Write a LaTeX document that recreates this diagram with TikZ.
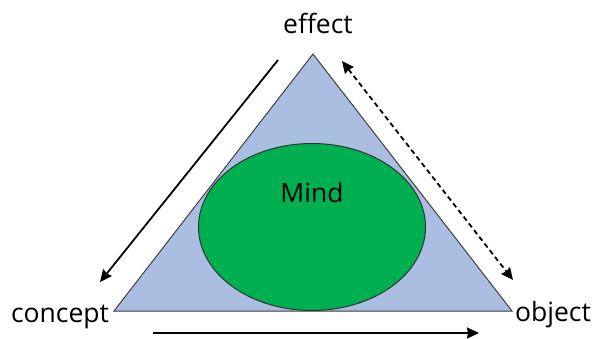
\documentclass[tikz,border=0pt]{standalone}
\usepackage{fontspec}
\setmainfont{Open Sans}
\usetikzlibrary{arrows.meta,shapes,positioning}
\tikzset{
  % Define standard arrow tip
  >={Stealth[length=12pt,width=11pt,inset=1pt]},
  % Define style for the corner labels
  corner/.style={
    font=\fontsize{26.5}{28}\selectfont,
    inner sep=0pt,
    anchor=base},
  % Define style for the triangle
  tri/.style={
    draw=black!75,
    fill={rgb,255:red,169;green,190;blue,224},
    line width=1pt},
  % Define round style
  round/.style={
    ellipse, draw=black!80, line width=1pt,
    fill={rgb,255:red,0;green,176;blue,80},
    minimum width=227pt, minimum height=167pt,
    inner sep=0pt},
  % Define arrow style
  arrow/.style={
    ->,
    line width=1.8pt},
  % dashed line
  dline/.style = {<->, line width=1.8pt, dash pattern=on 5pt off 3.5pt},
}

\begin{document}
\begin{tikzpicture}[x=1pt, y=-1pt]
  \useasboundingbox (0,0) rectangle (594,338);
  % corners of the triangle
  \coordinate (top) at (313,54);
  \coordinate (bl) at (114,311);
  \coordinate (br) at (512,311);
  \path[tri] (top) -- (bl) -- (br) -- cycle;
  % nodes
  \node[round] (mind) at (312,227) {};
  \node[corner] (mtxt) at (312,202) {Mind};
  \node[corner] (effect) at (318,33) {effect};
  \node[corner] (concept) at (60,322) {concept};
  \node[corner] (object) at (553,321) {object};
  % arrow ends
  \coordinate (a1) at (278,60);
  \coordinate (a2) at (100,282);
  \coordinate (b1) at (342,61);
  \coordinate (b2) at (513,280);
  \coordinate (c1) at (153,333);
  \coordinate (c2) at (479,333);
  \draw[arrow] (a1) -- (a2);
  \draw[dline] (b1) -- (b2);
  \draw[arrow] (c1) -- (c2);
\end{tikzpicture}
\end{document}
